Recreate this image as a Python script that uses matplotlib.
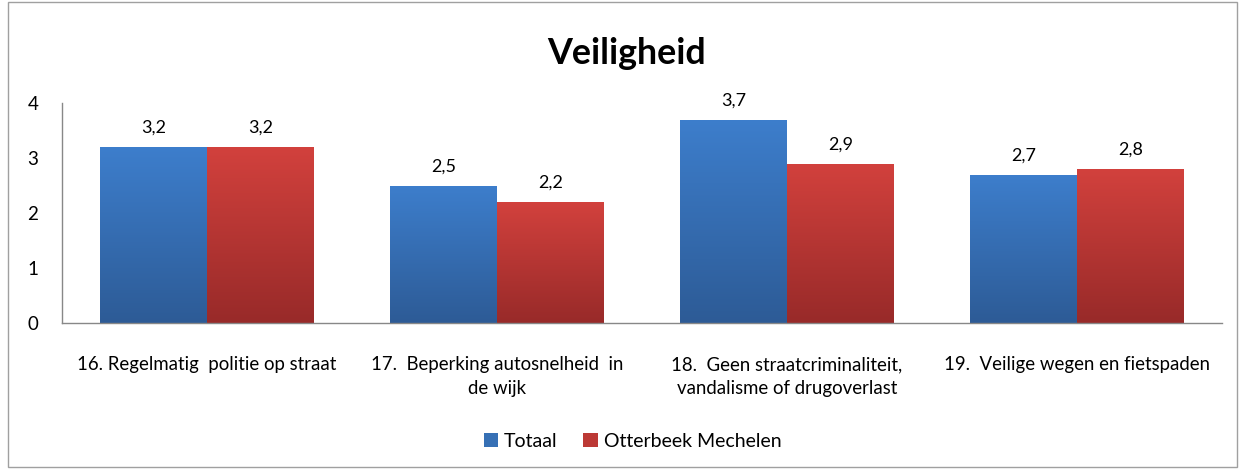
import numpy as np
import matplotlib
matplotlib.use("Agg")
import matplotlib.pyplot as plt
from matplotlib.colors import LinearSegmentedColormap
from matplotlib.patches import Rectangle

plt.rcParams['font.family'] = ['Lato', 'DejaVu Sans']

categories = ["16. Regelmatig  politie op straat",
              "17.  Beperking autosnelheid  in\nde wijk",
              "18.  Geen straatcriminaliteit,\nvandalisme of drugoverlast",
              "19.  Veilige wegen en fietspaden"]
totaal = [3.2, 2.5, 3.7, 2.7]
otterbeek = [3.2, 2.2, 2.9, 2.8]
series_names = ["Totaal", "Otterbeek Mechelen"]
title = "Veiligheid"

fig = plt.figure(figsize=(12.45, 4.69), dpi=100)
ax = fig.add_axes([62/1245, 1-323/469, (1222-62)/1245, 220/469])

blue_cmap = LinearSegmentedColormap.from_list("b", ["#2D5B96", "#3D7ECC"])
red_cmap = LinearSegmentedColormap.from_list("r", ["#982A29", "#D2413D"])

x = np.arange(len(categories))
w = 0.368
grad = np.linspace(0, 1, 256).reshape(-1, 1)
for vals, cmap, off in [(totaal, blue_cmap, -w/2), (otterbeek, red_cmap, w/2)]:
    bars = ax.bar(x + off, vals, w, color='none', edgecolor='none')
    for b, v in zip(bars, vals):
        x0 = b.get_x(); x1 = x0 + b.get_width()
        im = ax.imshow(grad, cmap=cmap, origin='lower', aspect='auto',
                       extent=[x0, x1, 0, v], zorder=2)
        im.set_clip_path(b)
        ax.text(b.get_x() + b.get_width()/2, v + 0.2, f"{v:.1f}".replace('.', ','),
                ha='center', va='bottom', fontsize=13, color='#000000')
ax.set_xlim(-0.5, len(categories)-0.5)
ax.set_ylim(0, 4)

ax.set_yticks([0, 1, 2, 3, 4])
ax.set_yticklabels(["0", "1", "2", "3", "4"], fontsize=13.5)
ax.tick_params(axis='y', length=0, pad=17)
ax.set_xticks(x)
ax.set_xticklabels(categories, fontsize=13.4, linespacing=1.5)
ax.tick_params(axis='x', length=0, pad=24)
for s in ['top', 'right']:
    ax.spines[s].set_visible(False)
for s in ['left', 'bottom']:
    ax.spines[s].set_color('#888888')
    ax.spines[s].set_linewidth(1.0)

fig.text(0.503, 1-53/469, title, ha='center', va='center', fontsize=25.8, fontweight='bold')

# legend
handles = [Rectangle((0, 0), 1, 1, facecolor='#3670B5'), Rectangle((0, 0), 1, 1, facecolor='#BC3935')]
fig.legend(handles, series_names, loc='center', bbox_to_anchor=(0.508, 1-441/469), ncol=2,
           frameon=False, fontsize=14, handlelength=0.75, handleheight=0.75,
           handletextpad=0.3, columnspacing=1.3)

# border
fig.add_artist(Rectangle((8/1245, 2/469), 1-16/1245, 1-4/469, transform=fig.transFigure,
                         fill=False, edgecolor='#A0A0A0', linewidth=1))

fig.savefig("out.png", dpi=100)
